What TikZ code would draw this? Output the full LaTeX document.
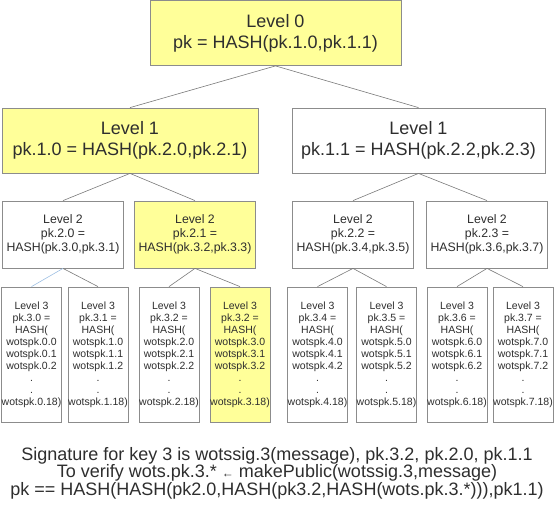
\documentclass[tikz,border=0pt]{standalone}
\usepackage{fontspec}
\setmainfont{Liberation Sans}
\usepackage{tikz}
\definecolor{boxgray}{HTML}{8C8C8C}
\definecolor{linegray}{HTML}{7A7A7A}
\definecolor{txtgray}{HTML}{2E2E2E}
\definecolor{hlyellow}{HTML}{FFFF99}
\definecolor{selblue}{HTML}{9DBFE3}

\begin{document}
\begin{tikzpicture}[x=1pt, y=-1pt,
    hashbox/.style={draw=boxgray, line width=0.8pt, inner sep=0pt, align=center, text=txtgray, fill=white},
    hl/.style={fill=hlyellow},
    topbox/.style={hashbox, font=\fontsize{18}{21}\selectfont, minimum height=65pt},
    midbox/.style={hashbox, font=\fontsize{12.3}{14}\selectfont, minimum width=121pt, minimum height=67pt},
    leafbox/.style={hashbox, font=\fontsize{10.5}{12}\selectfont, minimum width=60pt, minimum height=135pt},
    link/.style={draw=linegray, line width=0.6pt}]
    \useasboundingbox (0, 0) rectangle (554, 509);

    % level 0 and 1
    \node[topbox, hl, minimum width=251pt] (root) at (275.5, 33) {Level 0\\pk = HASH(pk.1.0,pk.1.1)};
    \node[topbox, hl, minimum width=256pt] (onea) at (130, 140.5) {Level 1\\pk.1.0 = HASH(pk.2.0,pk.2.1)};
    \node[topbox, minimum width=253pt] (oneb) at (418.5, 140.5) {Level 1\\pk.1.1 = HASH(pk.2.2,pk.2.3)};

    % level 2
    \node[midbox] (twoa) at (63, 234.5) {Level 2\\pk.2.0 =\\HASH(pk.3.0,pk.3.1)};
    \node[midbox, hl] (twob) at (195, 234.5) {Level 2\\pk.2.1 =\\HASH(pk.3.2,pk.3.3)};
    \node[midbox] (twoc) at (353, 234.5) {Level 2\\pk.2.2 =\\HASH(pk.3.4,pk.3.5)};
    \node[midbox] (twod) at (487, 234.5) {Level 2\\pk.2.3 =\\HASH(pk.3.6,pk.3.7)};

    % level 3
    \foreach \x/\pidx/\widx/\shade in {31.5/0/0/white, 98/1/1/white, 169/2/2/white, 240/2/3/hlyellow,
                                       317.5/4/4/white, 386.5/5/5/white, 457/6/6/white, 523/7/7/white}
        \node[leafbox, fill=\shade] (leaf\widx) at (\x, 354.5)
            {Level 3\\pk.3.\pidx{} =\\HASH(\\wotspk.\widx.0\\wotspk.\widx.1\\wotspk.\widx.2\\.\\.\\wotspk.\widx.18)};

    \foreach \a/\b in {root/onea, root/oneb, onea/twoa, onea/twob, oneb/twoc, oneb/twod,
                       twoa/leaf1, twob/leaf2, twob/leaf3, twoc/leaf4, twoc/leaf5, twod/leaf6, twod/leaf7}
        \draw[link] (\a.south) -- (\b.north);
    \draw[selblue, line width=0.6pt] (twoa.south) -- (leaf0.north);

    \node[text=txtgray, font=\fontsize{18}{17.5}\selectfont, align=center] (note) at (277, 473)
        {Signature for key 3 is wotssig.3(message), pk.3.2, pk.2.0, pk.1.1\\
         To verify wots.pk.3.* {\fontsize{12}{12}\selectfont ←} makePublic(wotssig.3,message)\\
         pk == HASH(HASH(pk2.0,HASH(pk3.2,HASH(wots.pk.3.*))),pk1.1)};
\end{tikzpicture}
\end{document}
